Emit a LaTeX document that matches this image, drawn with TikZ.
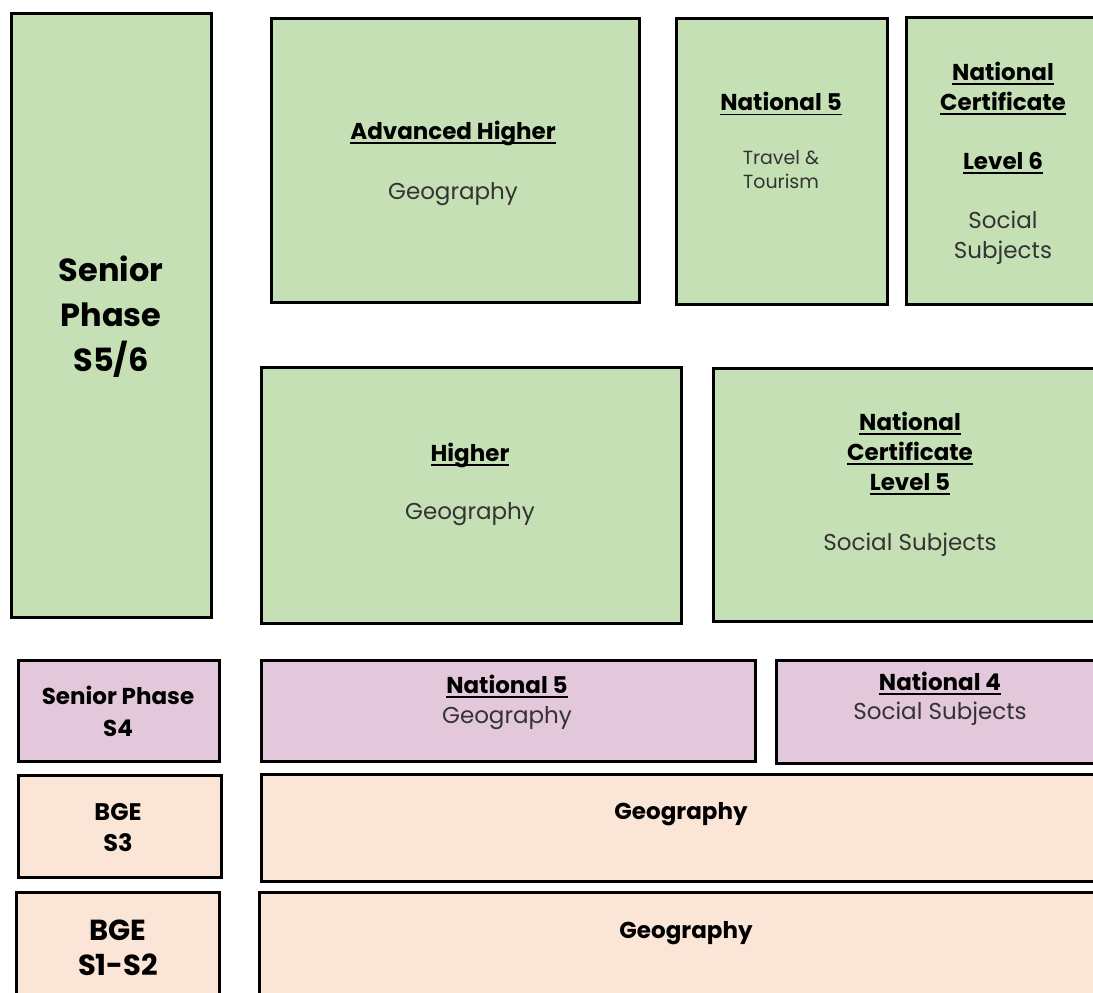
\documentclass[tikz,border=0pt]{standalone}
\usepackage{fontspec}
\setmainfont{Poppins}
\usepackage{tikz}
\definecolor{grn}{HTML}{C5E0B4}
\definecolor{plm}{HTML}{E3C7DB}
\definecolor{pch}{HTML}{FBE5D6}
\newcommand{\ulin}[1]{\setbox0\hbox{#1}\leavevmode\rlap{\rule[-4.5pt]{\wd0}{1.8pt}}\box0}

\begin{document}
\begin{tikzpicture}[x = 1pt, y = -1pt,
    box/.style = {draw = black, line width = 3pt, rectangle, inner sep = 0pt},
    txt/.style = {align = center, inner sep = 0pt, text = black!80,
      font = \fontsize{23}{30}\selectfont},
    ttl/.style = {txt, text = black, font = \bfseries\fontsize{23}{30}\selectfont}]
    \useasboundingbox (0,0) rectangle (1093,993);
    \clip (0,0) rectangle (1093,993);
    % boxes:
    \node[box, fill = grn, minimum width = 200, minimum height = 604] (sp56) at (111,315){};
    \node[box, fill = grn, minimum width = 368, minimum height = 284] (adv) at (455,160){};
    \node[box, fill = grn, minimum width = 211, minimum height = 286] (n5t) at (781.5,161){};
    \node[box, fill = grn, minimum width = 204, minimum height = 287] (ncl6) at (1008,160.5){};
    \node[box, fill = grn, minimum width = 420, minimum height = 256] (high) at (471,495){};
    \node[box, fill = grn, minimum width = 397, minimum height = 253] (ncl5) at (911.5,494.5){};
    \node[box, fill = plm, minimum width = 201, minimum height = 101] (sp4) at (119,710.5){};
    \node[box, fill = plm, minimum width = 494, minimum height = 101] (n5g) at (508,710.5){};
    \node[box, fill = plm, minimum width = 334, minimum height = 103] (n4) at (943,711.5){};
    \node[box, fill = pch, minimum width = 202.5, minimum height = 102] (bge3) at (119.75,826){};
    \node[box, fill = pch, minimum width = 849, minimum height = 107] (geo3) at (685.5,827.5){};
    \node[box, fill = pch, minimum width = 202.5, minimum height = 118] (bge12) at (117.75,951){};
    \node[box, fill = pch, minimum width = 851, minimum height = 118] (geo12) at (684.5,951){};
    % texts:
    \node[ttl, font = \bfseries\fontsize{32}{45}\selectfont] (sp56t) at (111,317){Senior\\Phase\\S5/6};
    \node[txt] (advt) at (453,163){\textbf{\textcolor{black}{\ulin{Advanced Higher}}}\\[30pt]Geography};
    \node[ttl] (n5tt) at (781,104){\ulin{National 5}};
    \node[txt, font = \fontsize{19}{24}\selectfont] (n5tb) at (781,170){Travel \&\\Tourism};
    \node[txt] (ncl6t) at (1003,163){\textbf{\textcolor{black}{\ulin{National}}}\\
      \textbf{\textcolor{black}{\ulin{Certificate}}}\\[29pt]
      \textbf{\textcolor{black}{\ulin{Level 6}}}\\[29pt]Social\\Subjects};
    \node[txt] (hight) at (470,484){\textbf{\textcolor{black}{\ulin{Higher}}}\\[28pt]Geography};
    \node[txt] (ncl5t) at (910,484){\textbf{\textcolor{black}{\ulin{National}}}\\
      \textbf{\textcolor{black}{\ulin{Certificate}}}\\
      \textbf{\textcolor{black}{\ulin{Level 5}}}\\[30pt]Social Subjects};
    \node[ttl, font = \bfseries\fontsize{23}{32}\selectfont] (sp4t) at (118,711){Senior Phase\\S4};
    \node[txt] (n5gt) at (507,702){\textbf{\textcolor{black}{\ulin{National 5}}}\\Geography};
    \node[txt, font = \fontsize{23}{29}\selectfont] (n4t) at (940,699){\textbf{\textcolor{black}{\ulin{National 4}}}\\Social Subjects};
    \node[ttl, font = \bfseries\fontsize{24}{31}\selectfont] (bge3t) at (118,828){BGE\\S3};
    \node[ttl] (geo3t) at (681,814){Geography};
    \node[ttl, font = \bfseries\fontsize{29}{35}\selectfont] (bge12t) at (118,948){BGE\\S1-S2};
    \node[ttl] (geo12t) at (686,933){Geography};
\end{tikzpicture}
\end{document}
